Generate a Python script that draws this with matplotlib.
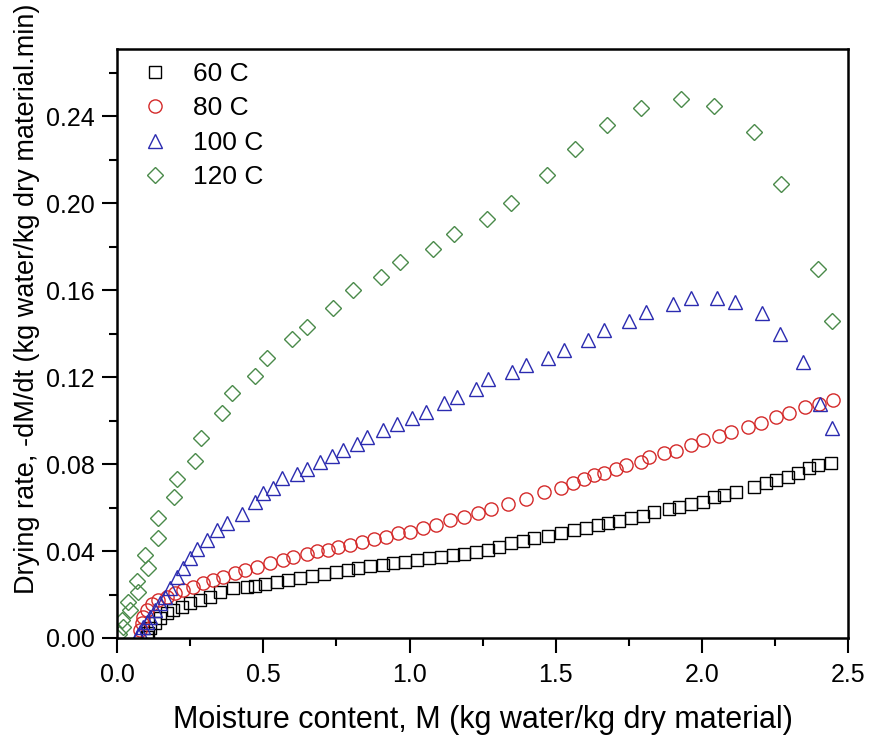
import matplotlib
matplotlib.use("Agg")
import matplotlib.pyplot as plt
from matplotlib.ticker import MultipleLocator

plt.rcParams['font.family'] = ['Liberation Sans', 'DejaVu Sans']

# 60 C
m60 = [0.103, 0.106, 0.113, 0.13, 0.147, 0.171, 0.192, 0.222, 0.25, 0.284, 0.318, 0.353,
       0.397, 0.445, 0.473, 0.507, 0.548, 0.586, 0.627, 0.668, 0.706, 0.747, 0.788, 0.825,
       0.866, 0.908, 0.945, 0.986, 1.027, 1.065, 1.106, 1.147, 1.185, 1.226, 1.267, 1.305,
       1.346, 1.387, 1.425, 1.473, 1.517, 1.562, 1.603, 1.644, 1.678, 1.716, 1.757, 1.798,
       1.836, 1.887, 1.921, 1.962, 2.003, 2.041, 2.075, 2.116, 2.178, 2.219, 2.253, 2.295,
       2.329, 2.366, 2.397, 2.442]
r60 = [0.0005, 0.0023, 0.0046, 0.0069, 0.0092, 0.0115, 0.0129, 0.0143, 0.016, 0.0175, 0.019, 0.0212,
       0.023, 0.0235, 0.024, 0.0248, 0.0256, 0.0267, 0.0276, 0.0285, 0.0294, 0.0304, 0.0313, 0.0322,
       0.0331, 0.0336, 0.0345, 0.035, 0.0359, 0.0368, 0.0372, 0.0382, 0.0386, 0.0395, 0.0405, 0.0418,
       0.0435, 0.0448, 0.0458, 0.047, 0.0483, 0.0497, 0.0506, 0.052, 0.0529, 0.0538, 0.0552, 0.0561,
       0.058, 0.0593, 0.0602, 0.0616, 0.0625, 0.0648, 0.0657, 0.0671, 0.0694, 0.0713, 0.0726, 0.074,
       0.0759, 0.078, 0.0795, 0.0805]

# 80 C
m80 = [0.079, 0.086, 0.089, 0.103, 0.12, 0.14, 0.171, 0.199, 0.226, 0.26, 0.295, 0.329,
       0.363, 0.404, 0.438, 0.479, 0.524, 0.568, 0.603, 0.651, 0.685, 0.723, 0.757, 0.798,
       0.839, 0.877, 0.918, 0.959, 1.003, 1.045, 1.089, 1.14, 1.185, 1.233, 1.277, 1.336,
       1.397, 1.459, 1.517, 1.558, 1.596, 1.63, 1.665, 1.705, 1.74, 1.79, 1.82, 1.87,
       1.911, 1.962, 2.003, 2.058, 2.1, 2.157, 2.202, 2.253, 2.298, 2.353, 2.40, 2.449]
r80 = [0.0037, 0.0069, 0.0097, 0.0129, 0.0156, 0.0175, 0.019, 0.0207, 0.022, 0.0235, 0.0253, 0.0267,
       0.028, 0.0299, 0.0313, 0.0326, 0.0345, 0.0359, 0.0372, 0.0386, 0.040, 0.0405, 0.0418, 0.0428,
       0.0441, 0.0455, 0.0464, 0.0483, 0.0487, 0.0506, 0.052, 0.0543, 0.0557, 0.0575, 0.0593, 0.0616,
       0.064, 0.0671, 0.069, 0.0713, 0.0731, 0.075, 0.0759, 0.0777, 0.0795, 0.081, 0.0832, 0.085,
       0.086, 0.0887, 0.091, 0.0929, 0.0947, 0.097, 0.0989, 0.1016, 0.1034, 0.1062, 0.1075, 0.1094]

# 100 C
m100 = [0.072, 0.079, 0.089, 0.103, 0.113, 0.13, 0.147, 0.164, 0.181, 0.205, 0.226, 0.25,
        0.274, 0.308, 0.342, 0.377, 0.428, 0.473, 0.50, 0.535, 0.565, 0.616, 0.651, 0.695,
        0.736, 0.774, 0.822, 0.856, 0.911, 0.958, 1.01, 1.055, 1.117, 1.164, 1.226, 1.27,
        1.349, 1.397, 1.473, 1.527, 1.61, 1.665, 1.75, 1.808, 1.90, 1.962, 2.05, 2.113,
        2.205, 2.267, 2.345, 2.404, 2.445]
r100 = [0.0014, 0.0028, 0.005, 0.0074, 0.0097, 0.013, 0.016, 0.019, 0.023, 0.028, 0.032, 0.037,
        0.041, 0.045, 0.0497, 0.053, 0.057, 0.0625, 0.0667, 0.069, 0.0736, 0.0754, 0.0777, 0.081,
        0.0837, 0.0864, 0.0892, 0.0924, 0.0956, 0.0984, 0.101, 0.104, 0.108, 0.111, 0.1145, 0.119,
        0.1223, 0.1255, 0.129, 0.1324, 0.137, 0.1416, 0.146, 0.150, 0.1535, 0.1563, 0.1563, 0.1545,
        0.1494, 0.140, 0.127, 0.1076, 0.0966]

# 120 C
m120 = [0.007, 0.017, 0.021, 0.038, 0.045, 0.068, 0.072, 0.096, 0.106, 0.141, 0.141, 0.195,
        0.206, 0.267, 0.288, 0.36, 0.394, 0.473, 0.514, 0.599, 0.651, 0.740, 0.808, 0.904,
        0.966, 1.079, 1.151, 1.264, 1.346, 1.469, 1.565, 1.675, 1.79, 1.928, 2.04, 2.178,
        2.27, 2.395, 2.445]
r120 = [0.002, 0.0083, 0.005, 0.0166, 0.0129, 0.026, 0.021, 0.038, 0.032, 0.055, 0.046, 0.065,
        0.073, 0.0815, 0.092, 0.1034, 0.1126, 0.1205, 0.129, 0.1375, 0.143, 0.152, 0.160, 0.166,
        0.173, 0.179, 0.186, 0.193, 0.200, 0.213, 0.225, 0.236, 0.244, 0.248, 0.245, 0.233,
        0.209, 0.170, 0.146]

fig = plt.figure(figsize=(8.7, 7.36), dpi=100)
ax = fig.add_axes([0.1345, 0.1332, 0.8405, 0.8002])

ax.plot(m60, r60, 's', ms=8.5, mfc='none', mec='black', mew=1.0, label='60 C')
ax.plot(m80, r80, 'o', ms=9.5, mfc='none', mec='#d42a2a', mew=1.0, label='80 C')
ax.plot(m100, r100, '^', ms=10.5, mfc='none', mec='#2b2bb0', mew=1.0, label='100 C')
ax.plot(m120, r120, 'D', ms=8.5, mfc='none', mec='#4a8a4a', mew=1.0, label='120 C')

ax.set_xlim(0, 2.5)
ax.set_ylim(0, 0.271)
ax.xaxis.set_major_locator(MultipleLocator(0.5))
ax.xaxis.set_minor_locator(MultipleLocator(0.25))
ax.yaxis.set_major_locator(MultipleLocator(0.04))
ax.yaxis.set_minor_locator(MultipleLocator(0.02))
ax.xaxis.set_major_formatter(plt.FormatStrFormatter('%.1f'))
ax.yaxis.set_major_formatter(plt.FormatStrFormatter('%.2f'))

ax.tick_params(which='both', direction='out', width=1.5, labelsize=18)
ax.tick_params(which='major', length=11, pad=5)
ax.tick_params(axis='x', which='major', pad=7)
ax.tick_params(which='minor', length=6)
for s in ax.spines.values():
    s.set_linewidth(1.8)

ax.set_xlabel('Moisture content, M (kg water/kg dry material)', fontsize=22, labelpad=13)
ax.set_ylabel('Drying rate, -dM/dt (kg water/kg dry material.min)', fontsize=19.5)
ax.yaxis.set_label_coords(-0.106, 0.576)

ax.legend(loc='upper left', bbox_to_anchor=(-0.008, 1.018), frameon=False, fontsize=19,
          handletextpad=0.7, labelspacing=0.39, borderaxespad=0.5, handlelength=1.5)

fig.savefig('out.png', dpi=100)
